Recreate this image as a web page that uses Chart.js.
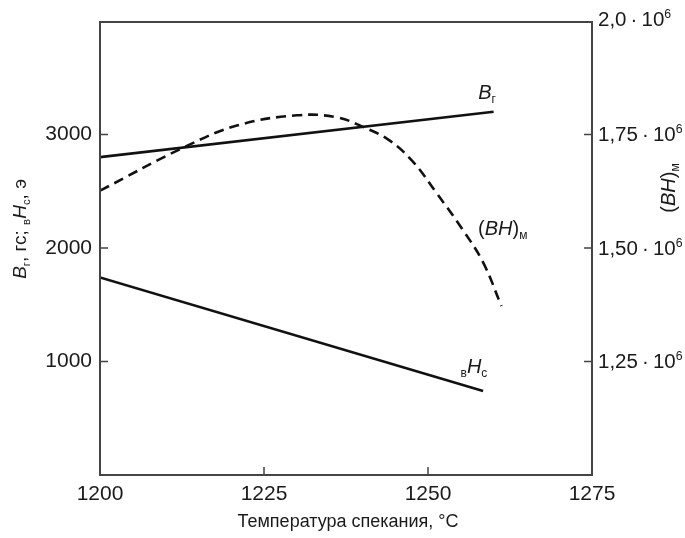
<!DOCTYPE html>
<html>
<head>
<meta charset="utf-8">
<script src="https://cdn.jsdelivr.net/npm/chart.js@4.4.1/dist/chart.umd.min.js"></script>
<style>
  html, body { margin: 0; padding: 0; background: #fff; }
  #wrap { width: 685px; height: 538px; }
</style>
</head>
<body>
<div id="wrap"><canvas id="chart"></canvas></div>
<script>
// values
const brTemps = [1200, 1260];
const brValues = [2800, 3200];            // B_r, гс (left axis)
const hcTemps = [1200, 1258.4];
const hcValues = [1740, 740];             // вH_c, э (left axis)
const bhTemps = [1200, 1213, 1221, 1230, 1236, 1240, 1244, 1247.7, 1251.3, 1255.3, 1258.4, 1261.2];
const bhValues = [1.626e6, 1.723e6, 1.770e6, 1.792e6, 1.788e6, 1.767e6, 1.738e6, 1.690e6, 1.621e6, 1.540e6, 1.468e6, 1.372e6];
const xTicks = [1200, 1225, 1250, 1275];
const leftTicks = [1000, 2000, 3000];
const rightTicks = [1.25e6, 1.5e6, 1.75e6, 2.0e6];

const FONT = '"Liberation Sans", Arial, sans-serif';
const INK = '#1a1a1a';
const FRAME = '#444';
const LEFT_MAX = 3990;
const RIGHT_MIN = 1e6, RIGHT_MAX = 1e6 + LEFT_MAX / 4000 * 1e6;

function pts(xs, ys) { return xs.map((x, i) => ({x: x, y: ys[i]})); }

// draws a row of text pieces: {t, it (italic), sub, sup}
function drawRuns(ctx, x, y, runs, size, align) {
  const fontOf = r => (r.it ? 'italic ' : '') + (r.sub || r.sup ? size * 0.6 : size) + 'px ' + FONT;
  let total = 0;
  runs.forEach(r => { ctx.font = fontOf(r); total += ctx.measureText(r.t).width; });
  let cx = align === 'left' ? x : x - total / 2;
  ctx.textBaseline = 'alphabetic';
  ctx.textAlign = 'left';
  runs.forEach(r => {
    ctx.font = fontOf(r);
    const dy = r.sub ? size * 0.2 : (r.sup ? -size * 0.4 : 0);
    ctx.fillText(r.t, cx, y + dy);
    cx += ctx.measureText(r.t).width;
  });
}

const decor = {
  id: 'decor',
  afterDraw(chart) {
    const {ctx, chartArea: a, scales} = chart;
    ctx.save();
    // frame
    ctx.strokeStyle = FRAME;
    ctx.lineWidth = 2;
    ctx.strokeRect(a.left, a.top, a.right - a.left, a.bottom - a.top);
    // inward tick marks
    ctx.lineWidth = 1.5;
    ctx.beginPath();
    xTicks.slice(1, -1).forEach(v => {
      const px = scales.x.getPixelForValue(v);
      ctx.moveTo(px, a.bottom); ctx.lineTo(px, a.bottom - 8);
    });
    leftTicks.forEach(v => {
      const py = scales.y.getPixelForValue(v);
      ctx.moveTo(a.left, py); ctx.lineTo(a.left + 8, py);
    });
    rightTicks.slice(0, -1).forEach(v => {
      const py = scales.y2.getPixelForValue(v);
      ctx.moveTo(a.right, py); ctx.lineTo(a.right - 8, py);
    });
    ctx.stroke();

    ctx.fillStyle = INK;
    // right axis tick labels (superscript exponent)
    rightTicks.forEach(v => {
      const py = Math.max(scales.y2.getPixelForValue(Math.min(v, RIGHT_MAX)), a.top) - (v === 2e6 ? 3 : 0);
      const main = (v === 2e6 ? '2,0' : (v / 1e6).toFixed(2).replace('.', ',')) + '\u2009·\u200910';
      drawRuns(ctx, a.right + 6, py + 7, [{t: main}, {t: '6', sup: true}], 20.5, 'left');
    });

    // x title
    ctx.font = '18px ' + FONT;
    ctx.textAlign = 'center';
    ctx.textBaseline = 'middle';
    ctx.fillText('Температура спекания, °C', 348, 522);

    // left title
    ctx.save();
    ctx.translate(19, 229);
    ctx.rotate(-Math.PI / 2);
    drawRuns(ctx, 0, 7, [
      {t: 'B', it: true}, {t: 'г', sub: true}, {t: ', гс; '}, {t: 'в', sub: true},
      {t: 'H', it: true}, {t: 'с', sub: true}, {t: ', э'}
    ], 19);
    ctx.restore();

    // right title
    ctx.save();
    ctx.translate(668, 188);
    ctx.rotate(-Math.PI / 2);
    drawRuns(ctx, 0, 7, [{t: '('}, {t: 'BH', it: true}, {t: ')'}, {t: 'м', sub: true}], 20);
    ctx.restore();

    // curve labels
    const lx = v => scales.x.getPixelForValue(v);
    const ly = v => scales.y.getPixelForValue(v);
    drawRuns(ctx, lx(1259), ly(3371) + 7, [{t: 'B', it: true}, {t: 'г', sub: true}], 20);
    drawRuns(ctx, lx(1261.4), ly(2178) + 7, [{t: '('}, {t: 'BH', it: true}, {t: ')'}, {t: 'м', sub: true}], 20);
    drawRuns(ctx, lx(1257), ly(960) + 7, [{t: 'в', sub: true}, {t: 'H', it: true}, {t: 'с', sub: true}], 20);
    ctx.restore();
  }
};

const lineStyle = {borderColor: '#111', borderWidth: 2.6, pointRadius: 0, fill: false};

new Chart(document.getElementById('chart'), {
  type: 'line',
  data: {
    datasets: [
      Object.assign({label: 'Br', data: pts(brTemps, brValues), yAxisID: 'y'}, lineStyle),
      Object.assign({label: 'Hc', data: pts(hcTemps, hcValues), yAxisID: 'y'}, lineStyle),
      Object.assign({label: 'BH', data: pts(bhTemps, bhValues), yAxisID: 'y2',
        borderDash: [10, 6], tension: 0.4}, lineStyle)
    ]
  },
  plugins: [decor],
  options: {
    responsive: true,
    maintainAspectRatio: false,
    animation: false,
    layout: {padding: {top: 22, left: 0, right: 0, bottom: 0}},
    plugins: {legend: {display: false}, tooltip: {enabled: false}},
    scales: {
      x: {
        type: 'linear',
        min: 1200, max: 1275,
        afterBuildTicks: s => { s.ticks = xTicks.map(v => ({value: v})); },
        afterFit: s => { s.height = 63; },
        grid: {display: false, drawTicks: false},
        border: {display: false},
        ticks: {color: INK, font: {family: FONT, size: 21}, padding: 7, maxRotation: 0,
          callback: v => String(v)}
      },
      y: {
        position: 'left',
        min: 0, max: LEFT_MAX,
        afterBuildTicks: s => { s.ticks = leftTicks.map(v => ({value: v})); },
        afterFit: s => { s.width = 100; },
        grid: {display: false, drawTicks: false},
        border: {display: false},
        ticks: {color: INK, font: {family: FONT, size: 21}, padding: 8,
          callback: v => String(v)}
      },
      y2: {
        position: 'right',
        min: RIGHT_MIN, max: RIGHT_MAX,
        afterBuildTicks: s => { s.ticks = rightTicks.map(v => ({value: Math.min(v, RIGHT_MAX)})); },
        afterFit: s => { s.width = 93; },
        grid: {display: false, drawTicks: false},
        border: {display: false},
        ticks: {display: false}
      }
    }
  }
});
</script>
</body>
</html>
